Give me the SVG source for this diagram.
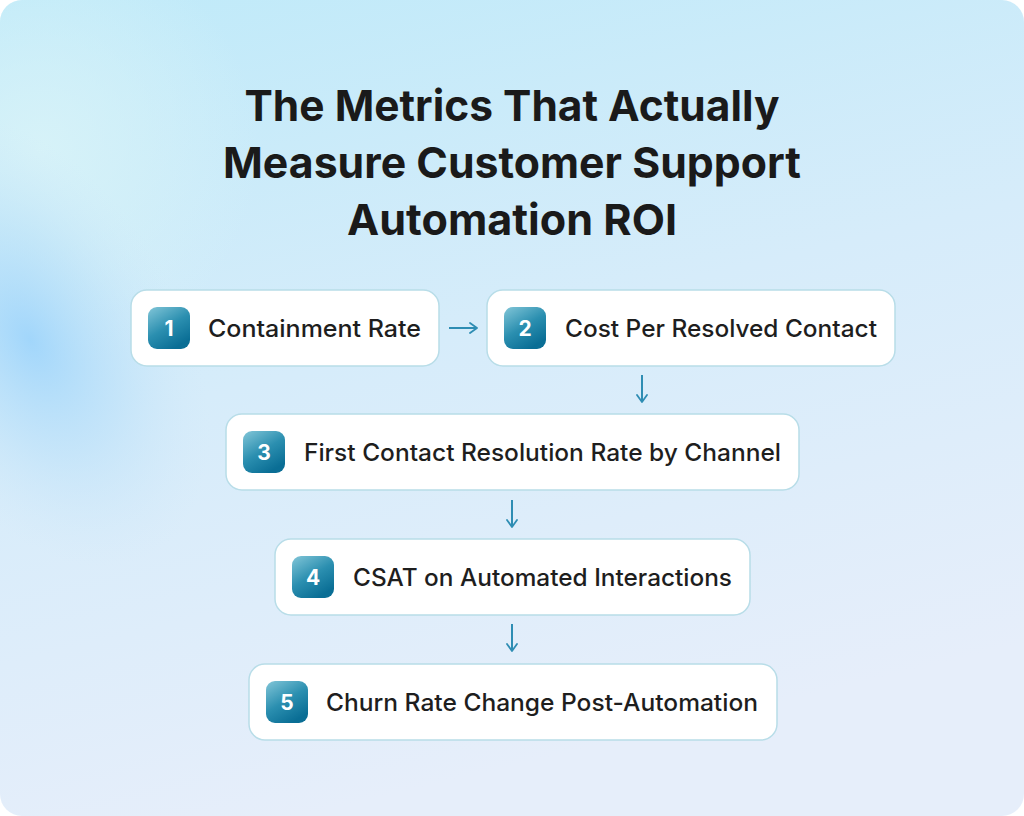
<svg xmlns="http://www.w3.org/2000/svg" width="1024" height="816" viewBox="0 0 1024 816">
<defs>
<linearGradient id="bg" x1="0" y1="0" x2="0.3" y2="1">
<stop offset="0" stop-color="#bfeaf9"/>
<stop offset="0.5" stop-color="#d6ecfa"/>
<stop offset="1" stop-color="#e6eefa"/>
</linearGradient>
<radialGradient id="blob" cx="30" cy="340" r="190" gradientUnits="userSpaceOnUse" gradientTransform="translate(30 340) rotate(-30) scale(0.8 1.3) translate(-30 -340)">
<stop offset="0" stop-color="#9fd5fb" stop-opacity="0.95"/>
<stop offset="0.5" stop-color="#b5def9" stop-opacity="0.5"/>
<stop offset="1" stop-color="#cfe8f9" stop-opacity="0"/>
</radialGradient>
<radialGradient id="glow" cx="40" cy="150" r="220" gradientUnits="userSpaceOnUse">
<stop offset="0" stop-color="#d8f3f8" stop-opacity="0.9"/>
<stop offset="1" stop-color="#d8f3f8" stop-opacity="0"/>
</radialGradient>
<linearGradient id="badge" x1="0" y1="0" x2="0.6" y2="1">
<stop offset="0" stop-color="#82c6d8"/>
<stop offset="0.55" stop-color="#2b8fb0"/>
<stop offset="1" stop-color="#0a6e95"/>
</linearGradient>
<marker id="ah" viewBox="0 0 12 12" refX="10" refY="6" markerWidth="12" markerHeight="12" markerUnits="userSpaceOnUse" orient="auto">
<path d="M3,1 L10,6 L3,11" fill="none" stroke="#2e8db3" stroke-width="1.8" stroke-linecap="round" stroke-linejoin="round"/>
</marker>
<style>
.card{fill:#ffffff;stroke:#b8dde8;stroke-width:1.5}
.bdg{fill:url(#badge)}
.num{font-family:Inter,"Liberation Sans",sans-serif;font-weight:700;font-size:21px;fill:#ffffff;text-anchor:middle}
.lbl{font-family:Inter,"Liberation Sans",sans-serif;font-weight:500;font-size:24px;fill:#1e1e1e}
.ttl{font-family:Inter,"Liberation Sans",sans-serif;font-weight:700;font-size:43px;fill:#1a1a1a;text-anchor:middle}
.con{fill:none;stroke:#2e8db3;stroke-width:2;marker-end:url(#ah)}
</style>
</defs>
<rect x="0" y="0" width="1024" height="816" fill="#ffffff"/>
<rect x="0" y="0" width="1024" height="816" rx="22" fill="url(#bg)"/>
<rect x="0" y="0" width="1024" height="816" rx="22" fill="url(#glow)"/>
<rect x="0" y="0" width="1024" height="816" rx="22" fill="url(#blob)"/>
<g id="title">
<text class="ttl" x="512" y="121" textLength="535" lengthAdjust="spacingAndGlyphs">The Metrics That Actually</text>
<text class="ttl" x="512" y="178" textLength="578" lengthAdjust="spacingAndGlyphs">Measure Customer Support</text>
<text class="ttl" x="512" y="235" textLength="330" lengthAdjust="spacingAndGlyphs">Automation ROI</text>
</g>
<g id="connectors">
<line class="con" x1="449" y1="328" x2="477" y2="328"/>
<line class="con" x1="642" y1="375" x2="642" y2="402"/>
<line class="con" x1="512" y1="500" x2="512" y2="527"/>
<line class="con" x1="512" y1="624" x2="512" y2="651"/>
</g>
<g id="node1">
<rect class="card" x="131" y="290" width="308" height="76" rx="16"/>
<rect class="bdg" x="148" y="307" width="42" height="42" rx="9"/>
<text class="num" x="169" y="336">1</text>
<text class="lbl" x="208" y="337" textLength="213" lengthAdjust="spacingAndGlyphs">Containment Rate</text>
</g>
<g id="node2">
<rect class="card" x="487" y="290" width="408" height="76" rx="16"/>
<rect class="bdg" x="504" y="307" width="42" height="42" rx="9"/>
<text class="num" x="525" y="336">2</text>
<text class="lbl" x="565" y="337" textLength="312" lengthAdjust="spacingAndGlyphs">Cost Per Resolved Contact</text>
</g>
<g id="node3">
<rect class="card" x="226" y="414" width="573" height="76" rx="16"/>
<rect class="bdg" x="243" y="431" width="42" height="42" rx="9"/>
<text class="num" x="264" y="460">3</text>
<text class="lbl" x="304" y="461" textLength="477" lengthAdjust="spacingAndGlyphs">First Contact Resolution Rate by Channel</text>
</g>
<g id="node4">
<rect class="card" x="275" y="539" width="475" height="76" rx="16"/>
<rect class="bdg" x="292" y="556" width="42" height="42" rx="9"/>
<text class="num" x="313" y="585">4</text>
<text class="lbl" x="353" y="586" textLength="379" lengthAdjust="spacingAndGlyphs">CSAT on Automated Interactions</text>
</g>
<g id="node5">
<rect class="card" x="249" y="664" width="528" height="76" rx="16"/>
<rect class="bdg" x="266" y="681" width="42" height="42" rx="9"/>
<text class="num" x="287" y="710">5</text>
<text class="lbl" x="326" y="711" textLength="432" lengthAdjust="spacingAndGlyphs">Churn Rate Change Post-Automation</text>
</g>
</svg>
